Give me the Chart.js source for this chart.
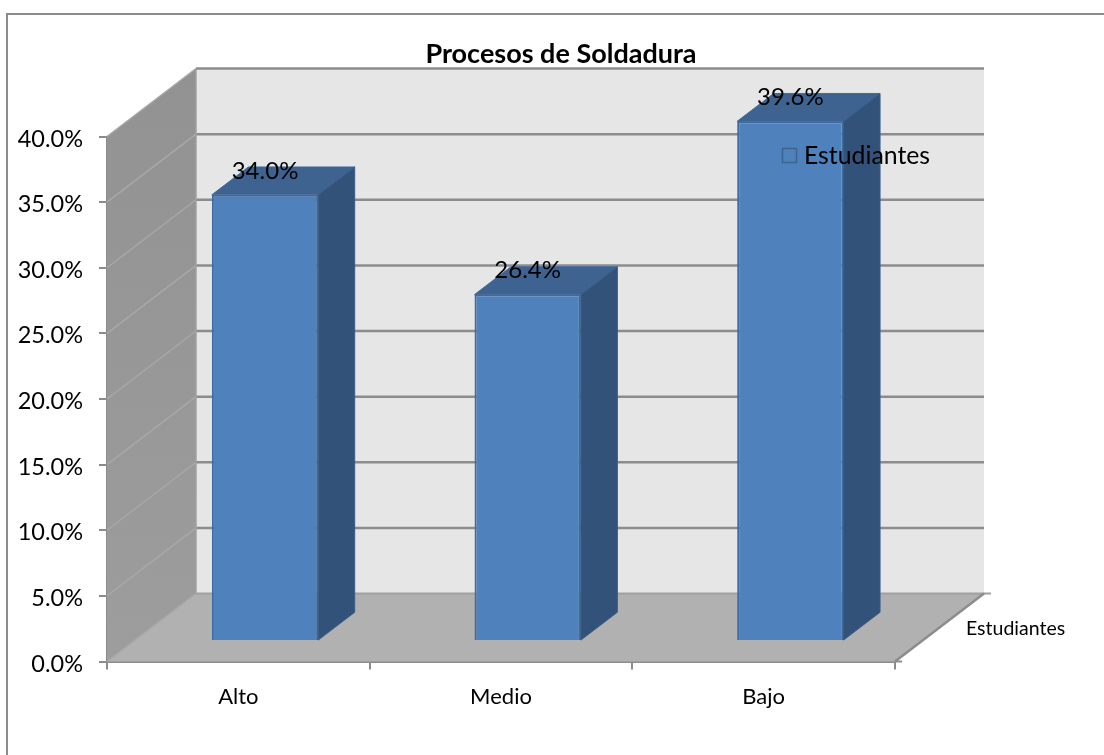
<!DOCTYPE html>
<html>
<head>
<meta charset="utf-8">
<title>Procesos de Soldadura</title>
<script src="https://cdn.jsdelivr.net/npm/chart.js@4/dist/chart.umd.js"></script>
<style>
  html, body { margin: 0; padding: 0; background: #fff; }
  #wrap { width: 1104px; height: 755px; }
</style>
</head>
<body>
<div id="wrap"><canvas id="chart" width="1104" height="755"></canvas></div>
<script>
const categories = ["Alto", "Medio", "Bajo"];
const seriesName = "Estudiantes";
const values = [34.0, 26.4, 39.6];
const chartTitle = "Procesos de Soldadura";
const FONT = "Lato";

// oblique projection used for the walls and the floor
const DEPTH_X = 89;
const DEPTH_Y = -68;
// the bar block sits between these fractions of the depth
const BAR_NEAR = 0.3;
const BAR_FAR = 0.71;

function poly(ctx, pts, fill, stroke, lw) {
    ctx.beginPath();
    pts.forEach((p, i) => i ? ctx.lineTo(p[0], p[1]) : ctx.moveTo(p[0], p[1]));
    ctx.closePath();
    if (fill) { ctx.fillStyle = fill; ctx.fill(); }
    if (stroke) { ctx.strokeStyle = stroke; ctx.lineWidth = lw || 1; ctx.stroke(); }
}

function line(ctx, x1, y1, x2, y2, color, lw) {
    ctx.beginPath();
    ctx.moveTo(x1, y1);
    ctx.lineTo(x2, y2);
    ctx.strokeStyle = color;
    ctx.lineWidth = lw;
    ctx.stroke();
}

const box3d = {
    id: "box3d",
    // walls, floor and gridlines go behind the bars
    beforeDatasetsDraw(chart) {
        const { ctx, chartArea: a, scales: { y } } = chart;
        const dx = DEPTH_X, dy = DEPTH_Y;
        ctx.save();
        // chart frame
        ctx.strokeStyle = "#8c8c8c";
        ctx.lineWidth = 2;
        ctx.strokeRect(7, 14, 1200, 900);

        poly(ctx, [[a.left + dx, a.top + dy], [a.right + dx, a.top + dy], [a.right + dx, a.bottom + dy], [a.left + dx, a.bottom + dy]], "#e6e6e6");

        const wall = ctx.createLinearGradient(0, a.top + dy, 0, a.bottom);
        wall.addColorStop(0, "#929292");
        wall.addColorStop(1, "#9d9d9d");
        poly(ctx, [[a.left, a.top], [a.left + dx, a.top + dy], [a.left + dx, a.bottom + dy], [a.left, a.bottom]], wall);
        poly(ctx, [[a.left, a.bottom], [a.left + dx, a.bottom + dy], [a.right + dx, a.bottom + dy], [a.right, a.bottom]], "#b1b1b1");

        y.ticks.forEach(t => {
            const py = y.getPixelForValue(t.value);
            line(ctx, a.left, py, a.left + dx, py + dy, "#a8a8a8", 1.5);
            if (t.value > 0) line(ctx, a.left + dx, py + dy, a.right + dx, py + dy, "#8c8c8c", 2.5);
        });
        line(ctx, a.left + dx, a.bottom + dy, a.right + dx + 7, a.bottom + dy, "#a0a0a0", 2);
        line(ctx, a.left + dx, a.top + dy, a.left + dx, a.bottom + dy, "#a0a0a0", 1.5);
        line(ctx, a.right, a.bottom, a.right + dx, a.bottom + dy, "#8c8c8c", 2.5);
        line(ctx, a.right, a.bottom, a.right + 7, a.bottom, "#8c8c8c", 2);

        // value axis labels sit slightly under their tick marks
        ctx.fillStyle = "#000";
        ctx.textAlign = "right";
        ctx.textBaseline = "middle";
        ctx.font = "23.5px " + FONT;
        y.ticks.forEach(t => {
            ctx.fillText(t.label, a.left - 24, y.getPixelForValue(t.value) + 2.5);
        });
        ctx.restore();
    },
    // shift the library's own bars onto their plane inside the box
    beforeDatasetDraw(chart) {
        chart.ctx.save();
        chart.ctx.translate(DEPTH_X * BAR_NEAR, DEPTH_Y * BAR_NEAR);
    },
    afterDatasetDraw(chart) {
        chart.ctx.restore();
    },
    afterDatasetsDraw(chart) {
        const { ctx, chartArea: a } = chart;
        const nx = DEPTH_X * BAR_NEAR, ny = DEPTH_Y * BAR_NEAR;
        const bx = DEPTH_X * (BAR_FAR - BAR_NEAR), by = DEPTH_Y * (BAR_FAR - BAR_NEAR);
        const bars = chart.getDatasetMeta(0).data;
        ctx.save();
        bars.forEach((bar, i) => {
            const l = bar.x - bar.width / 2 + nx, r = bar.x + bar.width / 2 + nx;
            const t = bar.y + ny, b = bar.base + ny;
            poly(ctx, [[l, t], [l + bx, t + by], [r + bx, t + by], [r, t]], "#3e6390", "#416a9b", 1);
            poly(ctx, [[r, t], [r + bx, t + by], [r + bx, b + by], [r, b]], "#325279", "#385d89", 1);
        });
        ctx.fillStyle = "#000";
        ctx.textBaseline = "middle";
        ctx.textAlign = "center";
        ctx.font = "24px " + FONT;
        bars.forEach((bar, i) => {
            ctx.fillText(values[i].toFixed(1) + "%", bar.x + nx, bar.y + ny - 24);
        });

        // title
        ctx.font = "bold 27px " + FONT;
        ctx.fillText(chartTitle, 561, 54);

        // legend
        poly(ctx, [[782.5, 148.5], [796.5, 148.5], [796.5, 162.5], [782.5, 162.5]], "#4f81bd", "#3e6390", 1.5);
        ctx.fillStyle = "#000";
        ctx.textAlign = "left";
        ctx.font = "24.8px " + FONT;
        ctx.fillText(seriesName, 804, 156);

        // series label on the depth axis
        ctx.font = "19.5px " + FONT;
        ctx.fillText(seriesName, a.right + 71, 629);
        ctx.restore();
    }
};

new Chart(document.getElementById("chart"), {
    type: "bar",
    data: {
        labels: categories,
        datasets: [{
            label: seriesName,
            data: values,
            backgroundColor: "#4f81bd",
            borderColor: "#3f6a9e",
            borderWidth: 2,
            categoryPercentage: 1,
            barPercentage: 0.405
        }]
    },
    options: {
        responsive: false,
        animation: false,
        layout: { padding: { top: 136.5, right: 209 } },
        plugins: { legend: { display: false }, title: { display: false }, tooltip: { enabled: false } },
        scales: {
            x: {
                afterFit: s => { s.height = 93.5; },
                grid: { drawOnChartArea: false, color: "#8c8c8c", lineWidth: 2, tickLength: 8 },
                border: { color: "#8c8c8c", width: 2 },
                ticks: { color: "#000", padding: 14, font: { family: FONT, size: 22 } }
            },
            y: {
                min: 0,
                max: 40,
                afterFit: s => { s.width = 107; },
                grid: { drawOnChartArea: false, color: "#8c8c8c", lineWidth: 2, tickLength: 8 },
                border: { color: "#8c8c8c", width: 2 },
                ticks: {
                    stepSize: 5,
                    display: false,
                    callback: v => v.toFixed(1) + "%"
                }
            }
        }
    },
    plugins: [box3d]
});
</script>
</body>
</html>
